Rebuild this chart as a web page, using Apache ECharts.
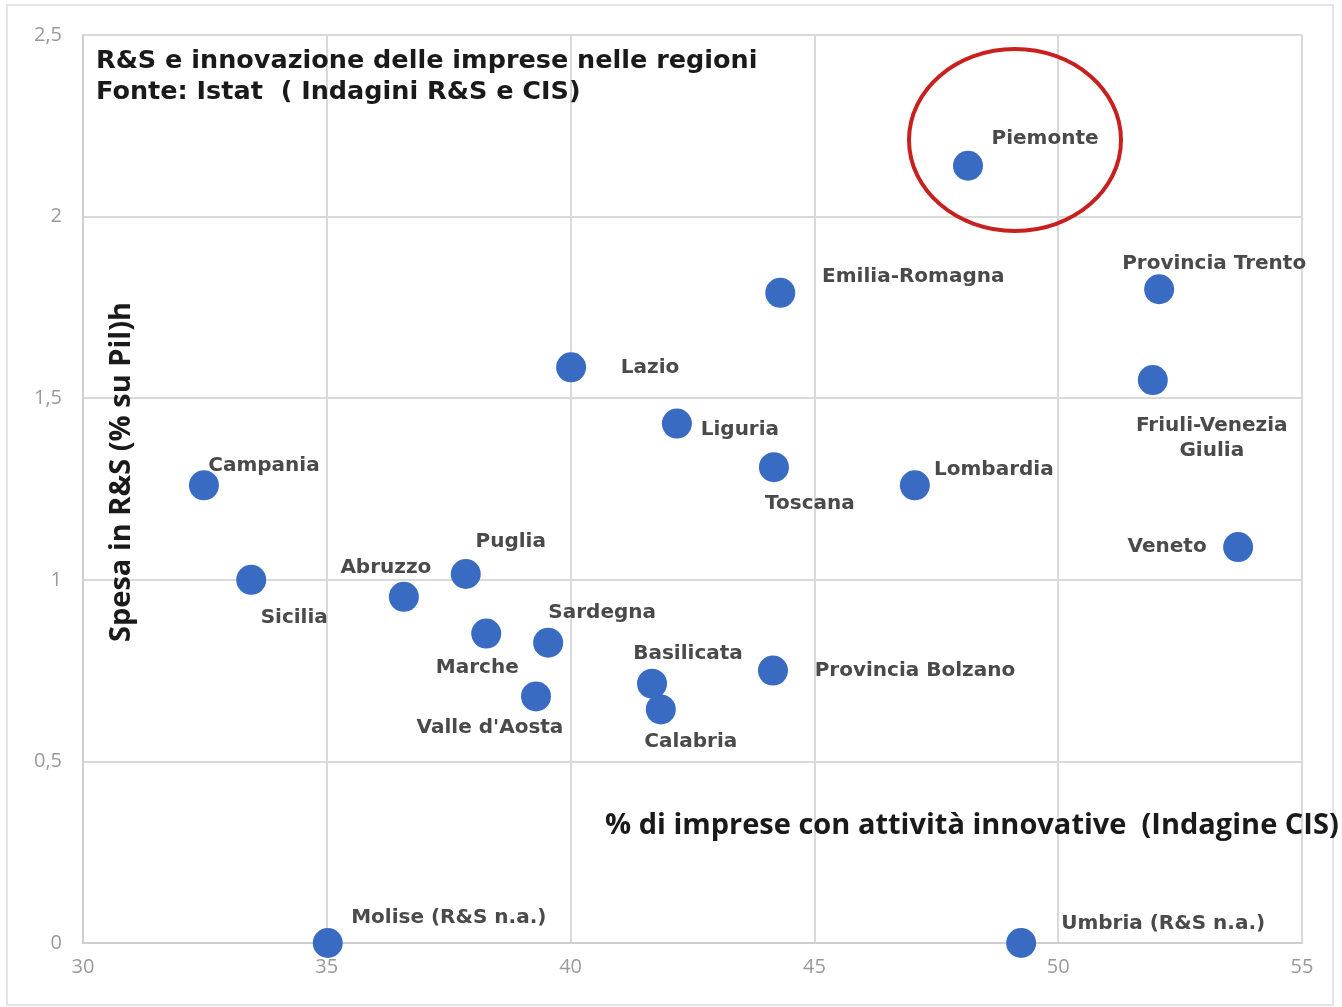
<!DOCTYPE html>
<html>
<head>
<meta charset="utf-8">
<script src="https://cdn.jsdelivr.net/npm/echarts@6/dist/echarts.min.js"></script>
<style>
  html, body { margin: 0; padding: 0; background: #fff; }
  #chart { width: 1342px; height: 1007px; }
</style>
</head>
<body>
<div id="chart"></div>
<script>
// regioni, % imprese innovative (x), spesa R&S % Pil (y)
var regions = ['Piemonte', 'Emilia-Romagna', 'Provincia Trento', 'Friuli-Venezia\nGiulia', 'Lazio',
  'Liguria', 'Toscana', 'Lombardia', 'Campania', 'Veneto', 'Sicilia', 'Abruzzo', 'Puglia',
  'Marche', 'Sardegna', "Valle d'Aosta", 'Basilicata', 'Calabria', 'Provincia Bolzano',
  'Molise (R&S n.a.)', 'Umbria (R&S n.a.)']
var innovative = [48.15, 44.3, 52.07, 51.94, 40.01, 42.18, 44.17, 47.06, 32.48, 53.69, 33.45,
  36.58, 37.85, 38.27, 39.54, 39.29, 41.67, 41.85, 44.15, 35.02, 49.24]
var spesaRS = [2.14, 1.79, 1.80, 1.55, 1.585, 1.43, 1.31, 1.26, 1.26, 1.09, 1.0,
  0.953, 1.016, 0.852, 0.827, 0.679, 0.714, 0.643, 0.75, 0, 0]
var xTicks = [30, 35, 40, 45, 50, 55]
var yTicks = [0, 0.5, 1, 1.5, 2, 2.5]

// label offsets from the marker centre (px)
var labelOffset = {
  'Piemonte': [77, -27],
  'Emilia-Romagna': [133, -16],
  'Provincia Trento': [55, -25],
  'Friuli-Venezia\nGiulia': [59, 58],
  'Lazio': [79, 0],
  'Liguria': [63, 6],
  'Toscana': [36, 37],
  'Lombardia': [79, -16],
  'Campania': [60, -20],
  'Veneto': [-71, 0],
  'Sicilia': [43, 38],
  'Abruzzo': [-18, -29],
  'Puglia': [45, -32],
  'Marche': [-9, 34],
  'Sardegna': [54, -30],
  "Valle d'Aosta": [-46, 31],
  'Basilicata': [36, -30],
  'Calabria': [30, 32],
  'Provincia Bolzano': [142, 0],
  'Molise (R&S n.a.)': [121, -25],
  'Umbria (R&S n.a.)': [142, -19]
}

var chart = echarts.init(document.getElementById('chart'))

var points = regions.map(function (name, i) {
  return {
    name: name,
    value: [innovative[i], spesaRS[i]],
    label: { offset: labelOffset[name] }
  }
})

var fmt = function (v) { return String(v).replace('.', ',') }

var option = {
  animation: false,
  backgroundColor: '#fff',
  graphic: [
    {
      type: 'rect',
      shape: { x: 7, y: 5, width: 1326, height: 1000 },
      style: { fill: 'none', stroke: '#e4e4e4', lineWidth: 2 },
      z: -1
    },
    {
      type: 'text',
      left: 96,
      top: 46,
      style: {
        text: 'R&S e innovazione delle imprese nelle regioni\nFonte: Istat  ( Indagini R&S e CIS)',
        font: 'bold 25.5px "DejaVu Sans"',
        fill: '#1a1a1a',
        lineHeight: 31
      },
      z: 10
    },
    {
      type: 'ellipse',
      shape: { cx: 1015, cy: 140, rx: 106, ry: 91 },
      style: { fill: 'none', stroke: '#c8201e', lineWidth: 4 },
      z: 10
    },
    {
      type: 'text',
      left: 605,
      top: 811,
      style: {
        text: '% di imprese con attività innovative  (Indagine CIS)',
        font: 'bold 29px "Open Sans"',
        fill: '#1a1a1a'
      },
      z: 10
    },
    {
      // y axis title sits inside the plot
      type: 'text',
      x: 122,
      y: 472,
      rotation: Math.PI / 2,
      style: {
        text: 'Spesa in R&S (% su Pil)h',
        font: 'bold 29px "Open Sans"',
        fill: '#1a1a1a',
        align: 'center',
        verticalAlign: 'middle'
      },
      z: 10
    }
  ],
  grid: { left: 83, right: 40, top: 35, bottom: 64, outerBoundsMode: 'none' },
  xAxis: {
    type: 'value',
    min: 30,
    max: 55,
    interval: 5,
    axisLine: { show: true, lineStyle: { color: '#cfcfcf', width: 2 } },
    axisTick: { show: false },
    axisLabel: { color: '#9a9a9a', fontSize: 20, fontFamily: 'Open Sans', margin: 14, formatter: fmt },
    splitLine: { show: true, lineStyle: { color: '#d9d9d9', width: 2 } }
  },
  yAxis: {
    type: 'value',
    min: 0,
    max: 2.5,
    interval: 0.5,
    axisLine: { show: true, lineStyle: { color: '#cfcfcf', width: 2 } },
    axisTick: { show: false },
    axisLabel: { color: '#9a9a9a', fontSize: 20, fontFamily: 'Open Sans', margin: 21, formatter: fmt },
    splitLine: { show: true, lineStyle: { color: '#d9d9d9', width: 2 } }
  },
  series: [
    {
      type: 'scatter',
      symbolSize: 30,
      itemStyle: { color: '#3a6bc2', opacity: 1 },
      label: {
        show: true,
        position: 'inside',
        align: 'center',
        verticalAlign: 'middle',
        formatter: '{b}',
        color: '#4a4a4a',
        fontSize: 20,
        fontWeight: 'bold',
        fontFamily: 'DejaVu Sans',
        lineHeight: 25
      },
      data: points,
      z: 5
    }
  ]
}

chart.setOption(option)
</script>
</body>
</html>
